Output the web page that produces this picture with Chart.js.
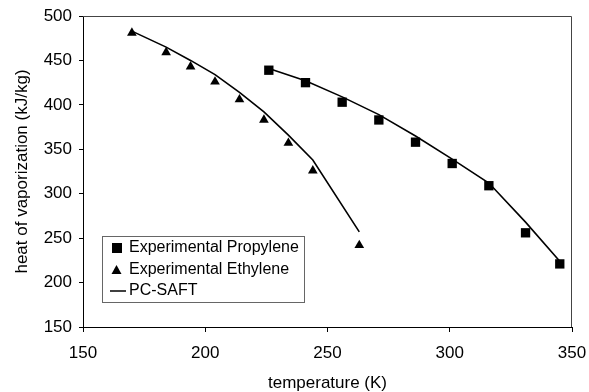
<!DOCTYPE html>
<html>
<head>
<meta charset="utf-8">
<script src="https://cdn.jsdelivr.net/npm/chart.js@4/dist/chart.umd.min.js"></script>
<style>
  html, body { margin: 0; padding: 0; background: #fff; }
  #wrap { width: 589px; height: 392px; }
</style>
</head>
<body>
<div id="wrap"><canvas id="chart" width="589" height="392"></canvas></div>
<script>
// data
const ethyleneT = [170, 184, 194, 204, 214, 224, 234, 244, 263];
const ethyleneExp = [481, 459, 443, 426, 406, 383, 357, 326, 242];
const ethyleneModel = [483, 465, 450, 434, 414, 392, 366, 338, 257];

const propyleneT = [226, 241, 256, 271, 286, 301, 316, 331, 345];
const propyleneExp = [439, 425, 403, 383, 358, 334, 309, 256, 221];
const propyleneModel = [441, 427, 409, 389, 365, 339, 312, 268, 224];

const xTicks = [150, 200, 250, 300, 350];
const yTicks = [150, 200, 250, 300, 350, 400, 450, 500];

const legendLabels = ["Experimental Propylene", "Experimental Ethylene", "PC-SAFT"];

const FONT = "'Liberation Sans', Arial, sans-serif";

function pts(xs, ys) {
  return xs.map((x, i) => ({ x: x, y: ys[i] }));
}

// frame on top/right + legend box inside the plot
const extras = {
  id: "extras",
  afterDraw(chart) {
    const ctx = chart.ctx;
    const a = chart.chartArea;
    ctx.save();
    ctx.strokeStyle = "#444";
    ctx.lineWidth = 1;
    ctx.beginPath();
    ctx.moveTo(a.left, a.top + 0.5);
    ctx.lineTo(a.right - 0.5, a.top + 0.5);
    ctx.lineTo(a.right - 0.5, a.bottom);
    ctx.stroke();

    // legend
    const lx = 102, ly = 236, lw = 202, lh = 66;
    ctx.fillStyle = "#fff";
    ctx.fillRect(lx, ly, lw, lh);
    ctx.strokeStyle = "#666";
    ctx.strokeRect(lx + 0.5, ly + 0.5, lw, lh);

    ctx.fillStyle = "#000";
    ctx.font = "16px " + FONT;
    ctx.textBaseline = "middle";
    const rows = [248, 270, 291];
    // square
    ctx.fillRect(112, rows[0] - 5, 10, 10);
    // triangle
    ctx.beginPath();
    ctx.moveTo(116.5, rows[1] - 5);
    ctx.lineTo(121.5, rows[1] + 4);
    ctx.lineTo(111.5, rows[1] + 4);
    ctx.closePath();
    ctx.fill();
    // line
    ctx.lineWidth = 1.5;
    ctx.strokeStyle = "#000";
    ctx.beginPath();
    ctx.moveTo(110, rows[2]);
    ctx.lineTo(126, rows[2]);
    ctx.stroke();
    legendLabels.forEach((t, i) => ctx.fillText(t, 129, rows[i]));
    ctx.restore();
  }
};

new Chart(document.getElementById("chart"), {
  type: "scatter",
  data: {
    datasets: [
      {
        label: "PC-SAFT",
        data: pts(ethyleneT, ethyleneModel),
        showLine: true,
        borderColor: "#000",
        borderWidth: 1.6,
        pointRadius: 0,
        tension: 0,
        order: 2
      },
      {
        label: "PC-SAFT ",
        data: pts(propyleneT, propyleneModel),
        showLine: true,
        borderColor: "#000",
        borderWidth: 1.6,
        pointRadius: 0,
        tension: 0,
        order: 2
      },
      {
        label: "Experimental Propylene",
        data: pts(propyleneT, propyleneExp),
        pointStyle: "rect",
        pointRadius: 6.6,
        backgroundColor: "#000",
        borderColor: "#000",
        borderWidth: 0,
        order: 1
      },
      {
        label: "Experimental Ethylene",
        data: pts(ethyleneT, ethyleneExp),
        pointStyle: "triangle",
        pointRadius: 5.6,
        backgroundColor: "#000",
        borderColor: "#000",
        borderWidth: 0,
        order: 1
      }
    ]
  },
  options: {
    responsive: false,
    animation: false,
    layout: { padding: { top: 16, right: 17, left: 0, bottom: 0 } },
    plugins: {
      legend: { display: false },
      tooltip: { enabled: false }
    },
    scales: {
      x: {
        type: "linear",
        min: 150,
        max: 350,
        afterBuildTicks(scale) { scale.ticks = xTicks.map(v => ({ value: v })); },
        afterFit(scale) {
          scale.height = 65;
          scale.paddingLeft = 0;
          scale.paddingRight = 0;
        },
        grid: { drawOnChartArea: false, drawTicks: true, tickLength: 5, color: "#000" },
        border: { display: true, color: "#000", width: 1 },
        ticks: { color: "#000", font: { family: FONT, size: 17 }, padding: 11, maxRotation: 0 },
        title: {
          display: true,
          text: "temperature (K)",
          color: "#000",
          font: { family: FONT, size: 17, lineHeight: 1 },
          padding: { top: 0, bottom: 0 }
        }
      },
      y: {
        type: "linear",
        min: 150,
        max: 500,
        afterBuildTicks(scale) { scale.ticks = yTicks.map(v => ({ value: v })); },
        afterFit(scale) {
          scale.width = 83;
          scale.paddingTop = 0;
          scale.paddingBottom = 0;
        },
        grid: { drawOnChartArea: false, drawTicks: true, tickLength: 4, color: "#000" },
        border: { display: true, color: "#000", width: 1 },
        ticks: { color: "#000", font: { family: FONT, size: 17 }, padding: 7 },
        title: {
          display: true,
          text: "heat of vaporization (kJ/kg)",
          color: "#000",
          font: { family: FONT, size: 17 },
          padding: { top: 12, bottom: 0 }
        }
      }
    }
  },
  plugins: [extras]
});
</script>
</body>
</html>
